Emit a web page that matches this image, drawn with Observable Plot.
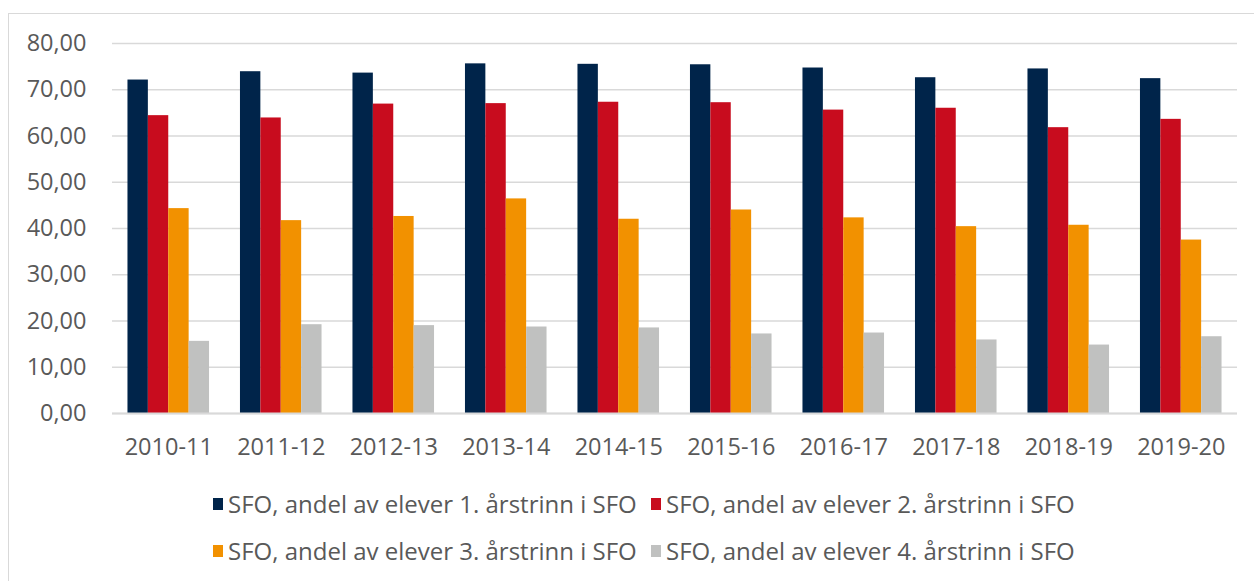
<!DOCTYPE html>
<html>
<head>
<meta charset="utf-8">
<script src="https://cdn.jsdelivr.net/npm/d3@7"></script>
<script src="https://cdn.jsdelivr.net/npm/@observablehq/plot@0.6"></script>
<style>
  html, body { margin: 0; padding: 0; background: #fff; }
  body { width: 1254px; height: 581px; overflow: hidden; position: relative; font-family: "Open Sans", sans-serif; }
  #frame { position: absolute; left: 8px; top: 13px; width: 1400px; height: 700px; border: 1.5px solid #d9d9d9; box-sizing: border-box; pointer-events: none; }
  #chart { position: absolute; left: 0; top: 0; }
  #legend { position: absolute; left: 0; top: 480px; width: 1254px; color: #595959; font-size: 24px; }
  .row { height: 47px; display: flex; align-items: center; padding-left: 213px; }
  .item { display: flex; align-items: center; width: 438px; white-space: nowrap; }
  .sw { width: 10px; height: 12px; margin-right: 5px; flex: none; }
</style>
</head>
<body>
<div id="frame"></div>
<div id="chart"></div>
<div id="legend"></div>
<script>
const years = ["2010-11","2011-12","2012-13","2013-14","2014-15","2015-16","2016-17","2017-18","2018-19","2019-20"];
const seriesNames = [
  "SFO, andel av elever 1. årstrinn i SFO",
  "SFO, andel av elever 2. årstrinn i SFO",
  "SFO, andel av elever 3. årstrinn i SFO",
  "SFO, andel av elever 4. årstrinn i SFO"
];
const grade1 = [72.1, 73.9, 73.6, 75.6, 75.5, 75.4, 74.7, 72.6, 74.5, 72.4];
const grade2 = [64.4, 63.9, 66.9, 67.0, 67.3, 67.2, 65.6, 66.0, 61.8, 63.6];
const grade3 = [44.3, 41.7, 42.6, 46.4, 42.0, 44.0, 42.3, 40.4, 40.7, 37.5];
const grade4 = [15.6, 19.2, 19.0, 18.7, 18.5, 17.2, 17.4, 15.9, 14.8, 16.6];
const colors = ["#00244a", "#c80c1e", "#f29100", "#c0c1c0"];
const yTicks = [0, 10, 20, 30, 40, 50, 60, 70, 80];

const allSeries = [grade1, grade2, grade3, grade4];

const W = 1254, H = 470;
const mL = 112, mR = 17, mT = 43, mB = 57;
const padIn = 0.275, padOut = 0.1375;

// bandwidth from the same band scale Plot will build, split among the 4 series
const bw = d3.scaleBand().domain(years).range([mL, W - mR]).paddingInner(padIn).paddingOuter(padOut).bandwidth();
const sub = bw / allSeries.length;

const marks = allSeries.map((vals, i) =>
  Plot.barY(years.map((y, j) => ({year: y, value: vals[j]})), {
    x: "year", y: "value", fill: colors[i],
    insetLeft: i * sub, insetRight: (allSeries.length - 1 - i) * sub
  })
);

const fmt = d => d.toFixed(2).replace(".", ",");

const plot = Plot.plot({
  width: W, height: H,
  marginLeft: mL, marginRight: mR, marginTop: mT, marginBottom: mB,
  style: {fontFamily: "'Open Sans', sans-serif", fontSize: "23.5px", color: "#595959", background: "transparent"},
  x: {domain: years, paddingInner: padIn, paddingOuter: padOut, round: false, label: null, tickSize: 0, tickPadding: 25},
  y: {domain: [0, 80], ticks: yTicks, label: null, tickFormat: fmt, tickSize: 0, tickPadding: 26},
  marks: [
    Plot.gridY(yTicks, {stroke: "#d9d9d9", strokeOpacity: 1, strokeWidth: 1.5}),
    ...marks,
    Plot.ruleY([0], {stroke: "#d9d9d9", strokeWidth: 2})
  ]
});
plot.querySelectorAll("text").forEach(t => t.setAttribute("fill", "#595959"));
document.getElementById("chart").appendChild(plot);

const legend = document.getElementById("legend");
for (let r = 0; r < 2; r++) {
  const row = document.createElement("div");
  row.className = "row";
  for (let c = 0; c < 2; c++) {
    const i = r * 2 + c;
    const item = document.createElement("div");
    item.className = "item";
    const sw = document.createElement("span");
    sw.className = "sw";
    sw.style.background = colors[i];
    const tx = document.createElement("span");
    tx.textContent = seriesNames[i];
    item.appendChild(sw); item.appendChild(tx);
    row.appendChild(item);
  }
  legend.appendChild(row);
}
</script>
</body>
</html>
